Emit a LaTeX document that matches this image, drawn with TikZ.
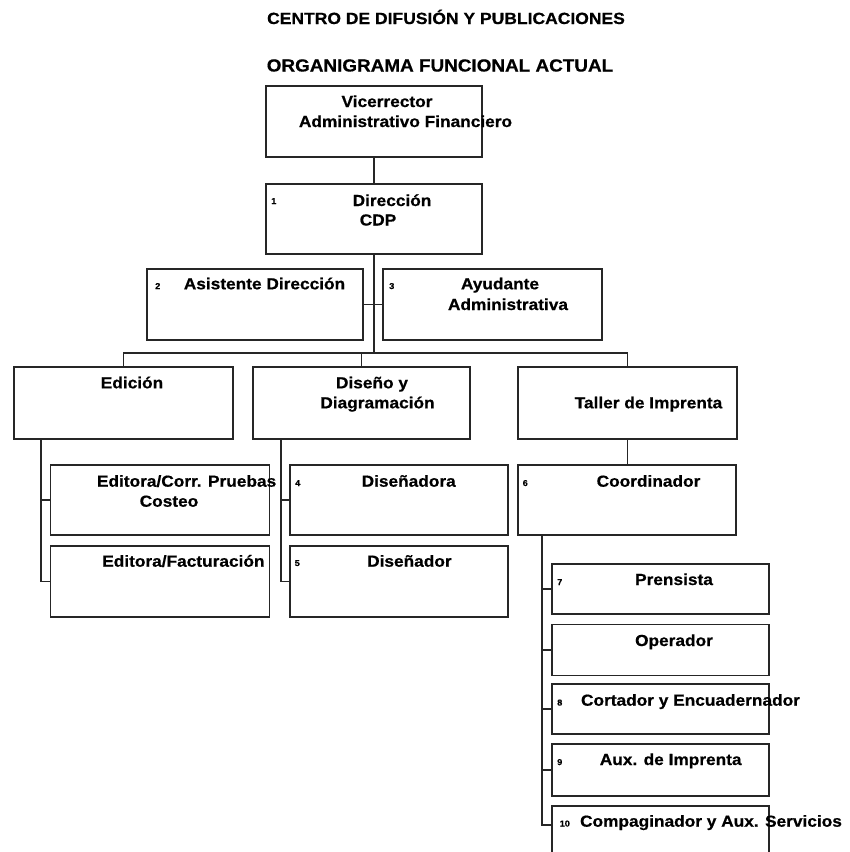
\documentclass[tikz,border=0pt]{standalone}
\usepackage{fontspec}
\setmainfont{Liberation Sans}[FakeStretch=1.08, BoldFeatures={FakeBold=0.6}]
\usetikzlibrary{calc}
\begin{document}
\begin{tikzpicture}[x=1pt,y=-1pt,
  orgbox/.style={draw=black!85, line width=1.1pt, inner sep=0pt, outer sep=0pt},
  link/.style={draw=black!85, line width=1.1pt},
  lbl/.style={inner sep=0pt, anchor=base, font=\fontsize{16}{19}\selectfont\bfseries},
  num/.style={inner sep=0pt, anchor=base west, font=\fontsize{8.5}{10}\selectfont\bfseries},
  ttl/.style={inner sep=0pt, anchor=base, font=\fontsize{#1}{20}\selectfont\bfseries}]
\useasboundingbox (0,0) rectangle (850,852);
\clip (0,0) rectangle (850,852);

% titles
\node[ttl=16.2] (t1) at (446,24) {CENTRO DE DIFUSIÓN Y PUBLICACIONES};
\node[ttl=17.5] (t2) at (440,71.5) {ORGANIGRAMA FUNCIONAL ACTUAL};

% boxes
\node[orgbox, minimum width=216, minimum height=71] (vr)     at (374,121.5) {};
\node[orgbox, minimum width=216, minimum height=70] (dir)    at (374,219) {};
\node[orgbox, minimum width=216, minimum height=71] (asis)   at (255,304.5) {};
\node[orgbox, minimum width=219, minimum height=71] (ayud)   at (492.5,304.5) {};
\node[orgbox, minimum width=219, minimum height=72] (edic)   at (123.5,403) {};
\node[orgbox, minimum width=217, minimum height=72] (dise)   at (361.5,403) {};
\node[orgbox, minimum width=219, minimum height=72] (taller) at (627.5,403) {};
\node[orgbox, minimum width=219, minimum height=70] (ecorr)  at (160,500) {};
\node[orgbox, minimum width=219, minimum height=71] (efact)  at (160,581.5) {};
\node[orgbox, minimum width=218, minimum height=70] (disa)   at (399,500) {};
\node[orgbox, minimum width=218, minimum height=71] (diso)   at (399,581.5) {};
\node[orgbox, minimum width=218, minimum height=70] (coord)  at (627,500) {};
\node[orgbox, minimum width=217, minimum height=50] (pren)   at (660.5,589) {};
\node[orgbox, minimum width=217, minimum height=51] (oper)   at (660.5,650) {};
\node[orgbox, minimum width=217, minimum height=50] (cort)   at (660.5,709) {};
\node[orgbox, minimum width=217, minimum height=52] (aux)    at (660.5,770) {};
\node[orgbox, minimum width=217, minimum height=60] (comp)   at (660.5,836) {};

% connectors
\coordinate (bus) at (374,353);
\coordinate (ex) at (41,0);
\coordinate (dx) at (281,0);
\coordinate (cx) at (542,0);
\draw[link] (vr.south) -- (dir.north);
\draw[link] (dir.south) -- (bus);
\draw[link] (asis.east) -- (ayud.west);
\draw[link] (edic.north) |- (bus);
\draw[link] (taller.north) |- (bus);
\draw[link] (dise.north) -- (dise.north |- bus);
\draw[link] (edic.south -| ex) |- (efact.west);
\draw[link] (ecorr.west -| ex) -- (ecorr.west);
\draw[link] (dise.south -| dx) |- (diso.west);
\draw[link] (disa.west -| dx) -- (disa.west);
\draw[link] (taller.south) -- (coord.north -| taller.south);
\draw[link] (coord.south -| cx) |- ([yshift=-19pt]comp.north west);
\draw[link] (pren.west -| cx) -- (pren.west);
\draw[link] (oper.west -| cx) -- (oper.west);
\draw[link] (cort.west -| cx) -- (cort.west);
\draw[link] (aux.west -| cx) -- (aux.west);

% labels
\node[lbl] (vr1) at (387,107) {Vicerrector};
\node[lbl] (vr2) at (405.5,127) {Administrativo Financiero};
\node[num] (n1) at (271,204) {1};
\node[lbl] (dir1) at (392,206) {Dirección};
\node[lbl] (dir2) at (378,225.5) {CDP};
\node[num] (n2) at (155,289) {2};
\node[lbl] (asis1) at (264.5,289.3) {Asistente Dirección};
\node[num] (n3) at (389,289) {3};
\node[lbl] (ayud1) at (500,289.3) {Ayudante};
\node[lbl] (ayud2) at (508,310) {Administrativa};
\node[lbl] (edic1) at (132,388.3) {Edición};
\node[lbl] (dise1) at (372,388.3) {Diseño y};
\node[lbl] (dise2) at (377.5,408.3) {Diagramación};
\node[lbl] (tall1) at (648.5,408.3) {Taller de Imprenta};
\node[lbl] (ecor1) at (186.6,486.7) {Editora/Corr. Pruebas};
\node[lbl] (ecor2) at (169,506.7) {Costeo};
\node[num] (n4) at (295,486) {4};
\node[lbl] (disa1) at (408.7,486.7) {Diseñadora};
\node[num] (n6) at (522.5,486) {6};
\node[lbl] (coor1) at (648.5,486.7) {Coordinador};
\node[lbl] (efac1) at (183.4,566.7) {Editora/Facturación};
\node[num] (n5) at (294.5,566) {5};
\node[lbl] (diso1) at (409.4,566.7) {Diseñador};
\node[num] (n7) at (557,585) {7};
\node[lbl] (pren1) at (674,585) {Prensista};
\node[lbl] (oper1) at (674,646) {Operador};
\node[num] (n8) at (557,705.5) {8};
\node[lbl] (cort1) at (690.5,705.7) {Cortador y Encuadernador};
\node[num] (n9) at (557,765) {9};
\node[lbl] (aux1) at (670.7,765) {Aux. de Imprenta};
\node[num] (n10) at (559.5,826.5) {10};
\node[lbl] (comp1) at (711,826.7) {Compaginador y Aux. Servicios};
\end{tikzpicture}
\end{document}
